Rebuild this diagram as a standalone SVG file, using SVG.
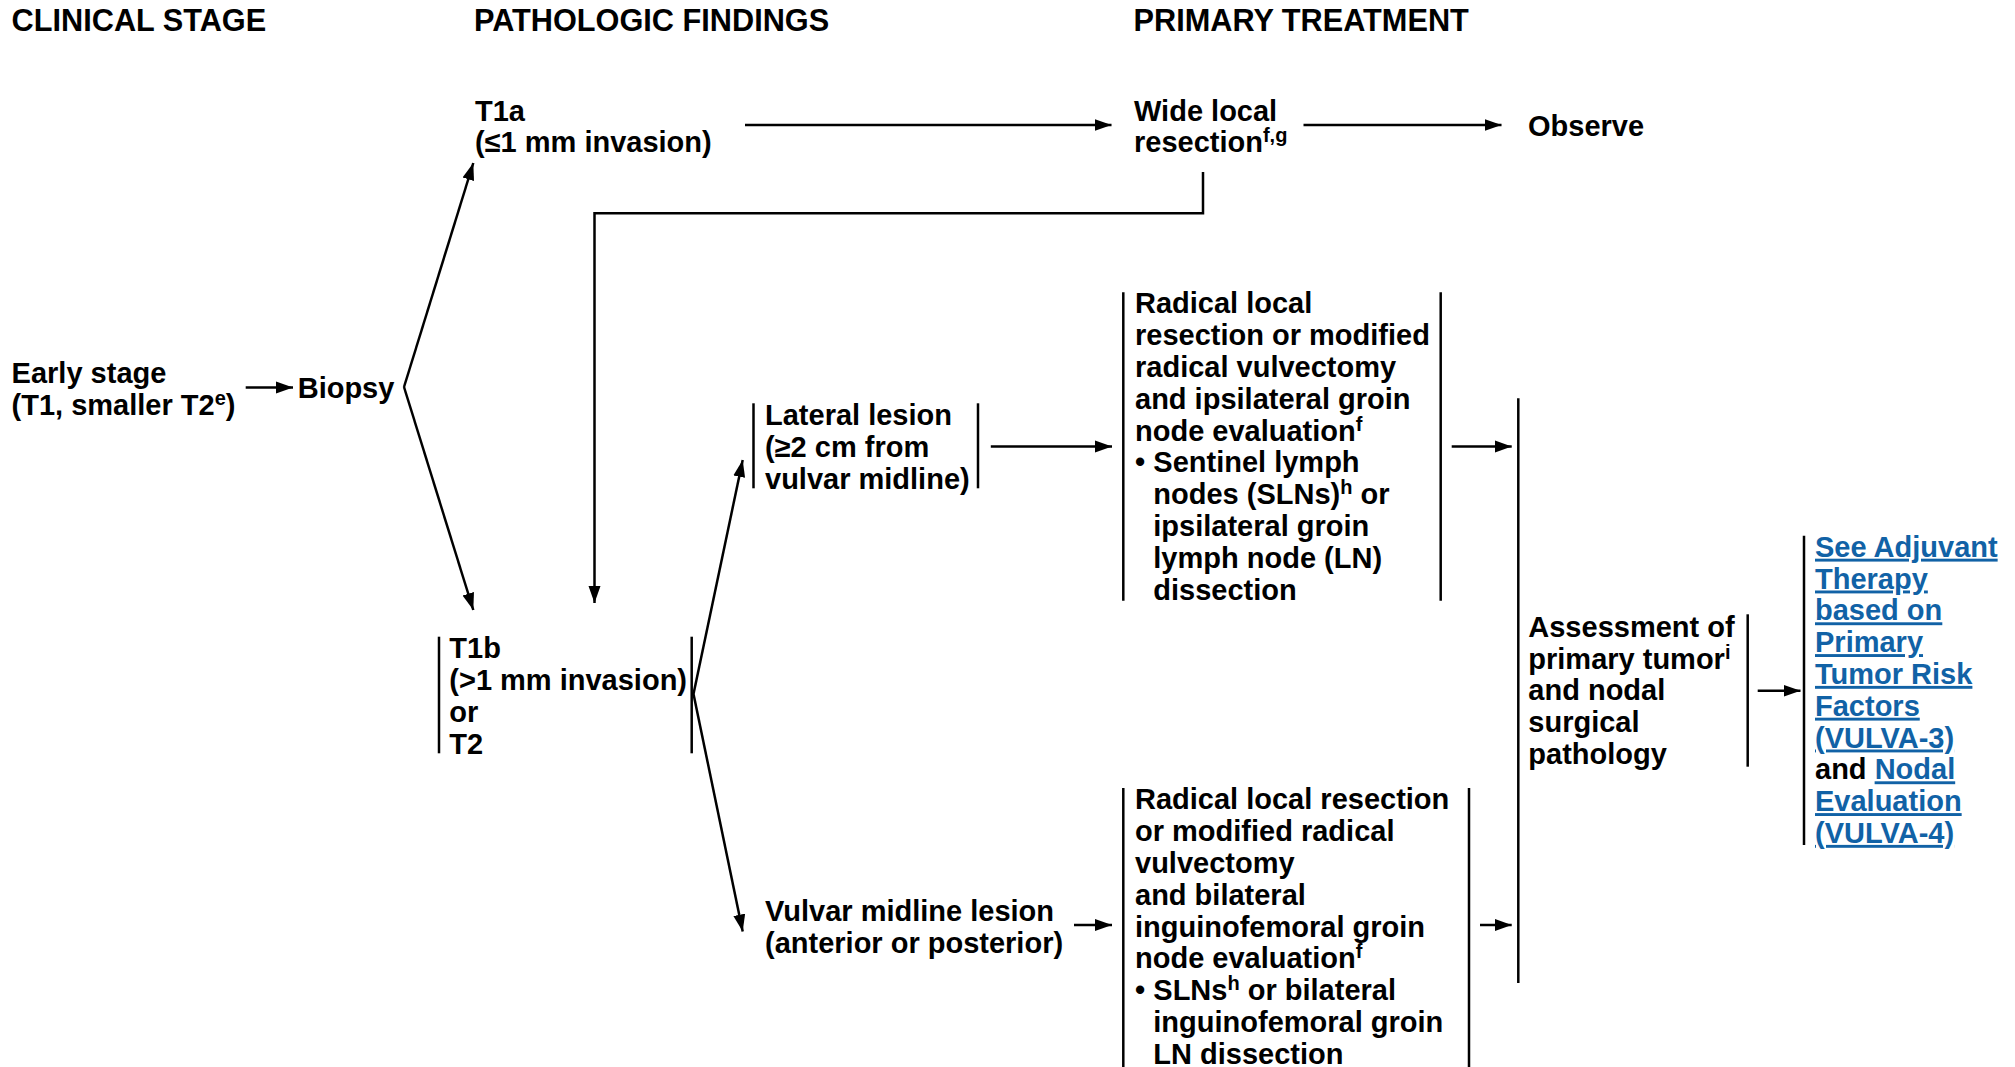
<svg xmlns="http://www.w3.org/2000/svg" width="2015" height="1067" viewBox="0 0 2015 1067">
<defs>
<style>
text { font-family: "Liberation Sans", Arial, Helvetica, sans-serif; font-weight: bold; font-size: 29px; fill: #000; }
.hdr { font-size: 30.7px; }
.sup { font-size: 20px; }
.link { fill: #1162a6; text-decoration: underline; }
.bar { stroke: #000; stroke-width: 2.5; fill: none; }
.c { stroke: #000; stroke-width: 2.5; fill: none; marker-end: url(#ah); }
.p { stroke: #000; stroke-width: 2.5; fill: none; }
</style>
<marker id="ah" markerUnits="userSpaceOnUse" markerWidth="18" markerHeight="13" refX="17" refY="6.5" orient="auto">
<path d="M0,0.5 L17,6.5 L0,12.5 z" fill="#000"/>
</marker>
</defs>
<rect width="2015" height="1067" fill="#fff"/>

<g id="headers">
<text class="hdr" x="11.6" y="31">CLINICAL STAGE</text>
<text class="hdr" x="474" y="31">PATHOLOGIC FINDINGS</text>
<text class="hdr" x="1133.5" y="31">PRIMARY TREATMENT</text>
</g>

<g id="node-early">
<text x="11.6" y="382.7">Early stage</text>
<text x="11.6" y="414.5">(T1, smaller T2<tspan class="sup" dy="-10">e</tspan><tspan dy="10">)</tspan></text>
</g>

<g id="node-biopsy">
<text x="297.7" y="397.5">Biopsy</text>
</g>

<g id="node-t1a">
<text x="475" y="120.5">T1a</text>
<text x="475" y="152.3">(≤1 mm invasion)</text>
</g>

<g id="node-wide">
<text x="1134" y="120.5">Wide local</text>
<text x="1134" y="152.3">resection<tspan class="sup" dy="-10">f,g</tspan></text>
</g>

<g id="node-observe">
<text x="1528" y="136">Observe</text>
</g>

<g id="node-t1b">
<line class="bar" x1="439" y1="636.7" x2="439" y2="753.3"/>
<line class="bar" x1="691.7" y1="636.7" x2="691.7" y2="753.3"/>
<text x="449.3" y="658.3">T1b</text>
<text x="449.3" y="690.1">(&gt;1 mm invasion)</text>
<text x="449.3" y="721.9">or</text>
<text x="449.3" y="753.7">T2</text>
</g>

<g id="node-lateral">
<line class="bar" x1="753.5" y1="403.3" x2="753.5" y2="488.3"/>
<line class="bar" x1="978" y1="403.3" x2="978" y2="488.3"/>
<text x="765" y="425">Lateral lesion</text>
<text x="765" y="456.8">(≥2 cm from</text>
<text x="765" y="488.6">vulvar midline)</text>
</g>

<g id="node-midline">
<text x="765" y="921">Vulvar midline lesion</text>
<text x="765" y="952.8">(anterior or posterior)</text>
</g>

<g id="node-radical1">
<line class="bar" x1="1123.3" y1="292.3" x2="1123.3" y2="600.7"/>
<line class="bar" x1="1440.7" y1="292.3" x2="1440.7" y2="600.7"/>
<text x="1135" y="313.3">Radical local</text>
<text x="1135" y="345.1">resection or modified</text>
<text x="1135" y="376.9">radical vulvectomy</text>
<text x="1135" y="408.7">and ipsilateral groin</text>
<text x="1135" y="440.5">node evaluation<tspan class="sup" dy="-10">f</tspan></text>
<text x="1135" y="472.3">•</text>
<text x="1153.3" y="472.3">Sentinel lymph</text>
<text x="1153.3" y="504.1">nodes (SLNs)<tspan class="sup" dy="-10">h</tspan><tspan dy="10"> or</tspan></text>
<text x="1153.3" y="535.9">ipsilateral groin</text>
<text x="1153.3" y="567.7">lymph node (LN)</text>
<text x="1153.3" y="599.5">dissection</text>
</g>

<g id="node-radical2">
<line class="bar" x1="1123.3" y1="788" x2="1123.3" y2="1067"/>
<line class="bar" x1="1469" y1="788" x2="1469" y2="1067"/>
<text x="1135" y="809.3">Radical local resection</text>
<text x="1135" y="841.1">or modified radical</text>
<text x="1135" y="872.9">vulvectomy</text>
<text x="1135" y="904.7">and bilateral</text>
<text x="1135" y="936.5">inguinofemoral groin</text>
<text x="1135" y="968.3">node evaluation<tspan class="sup" dy="-10">f</tspan></text>
<text x="1135" y="1000.1">•</text>
<text x="1153.3" y="1000.1">SLNs<tspan class="sup" dy="-10">h</tspan><tspan dy="10"> or bilateral</tspan></text>
<text x="1153.3" y="1031.9">inguinofemoral groin</text>
<text x="1153.3" y="1063.7">LN dissection</text>
</g>

<g id="node-assessment">
<line class="bar" x1="1518.3" y1="398.3" x2="1518.3" y2="983"/>
<line class="bar" x1="1747.7" y1="614.3" x2="1747.7" y2="766.7"/>
<text x="1528.3" y="636.7">Assessment of</text>
<text x="1528.3" y="668.5">primary tumor<tspan class="sup" dy="-10">i</tspan></text>
<text x="1528.3" y="700.3">and nodal</text>
<text x="1528.3" y="732.1">surgical</text>
<text x="1528.3" y="763.9">pathology</text>
</g>

<g id="node-adjuvant">
<line class="bar" x1="1804" y1="535.7" x2="1804" y2="845"/>
<text x="1815" y="556.7" class="link">See Adjuvant</text>
<text x="1815" y="588.5" class="link">Therapy</text>
<text x="1815" y="620.3" class="link">based on</text>
<text x="1815" y="652.1" class="link">Primary</text>
<text x="1815" y="683.9" class="link">Tumor Risk</text>
<text x="1815" y="715.7" class="link">Factors</text>
<text x="1815" y="747.5" class="link">(VULVA-3)</text>
<text x="1815" y="779.3">and <tspan class="link">Nodal</tspan></text>
<text x="1815" y="811.1" class="link">Evaluation</text>
<text x="1815" y="842.9" class="link">(VULVA-4)</text>
</g>

<g id="connectors">
<line class="c" x1="245.7" y1="387.5" x2="293" y2="387.5"/>
<line class="c" x1="404" y1="387" x2="473.3" y2="163"/>
<line class="c" x1="404" y1="387" x2="473.3" y2="610"/>
<line class="c" x1="745" y1="125" x2="1111.5" y2="125"/>
<line class="c" x1="1303.5" y1="125" x2="1501.5" y2="125"/>
<polyline class="c" points="1203,172 1203,213.3 594.5,213.3 594.5,603"/>
<line class="p" x1="691.7" y1="694" x2="693.5" y2="694"/>
<line class="c" x1="693.5" y1="694" x2="742.7" y2="460"/>
<line class="c" x1="693.5" y1="694" x2="742.7" y2="931.5"/>
<line class="c" x1="990.8" y1="446.5" x2="1112" y2="446.5"/>
<line class="c" x1="1074" y1="925" x2="1112" y2="925"/>
<line class="c" x1="1451.7" y1="446.5" x2="1511.7" y2="446.5"/>
<line class="c" x1="1480" y1="925" x2="1511.7" y2="925"/>
<line class="c" x1="1757.7" y1="690.7" x2="1800.5" y2="690.7"/>
</g>
</svg>
